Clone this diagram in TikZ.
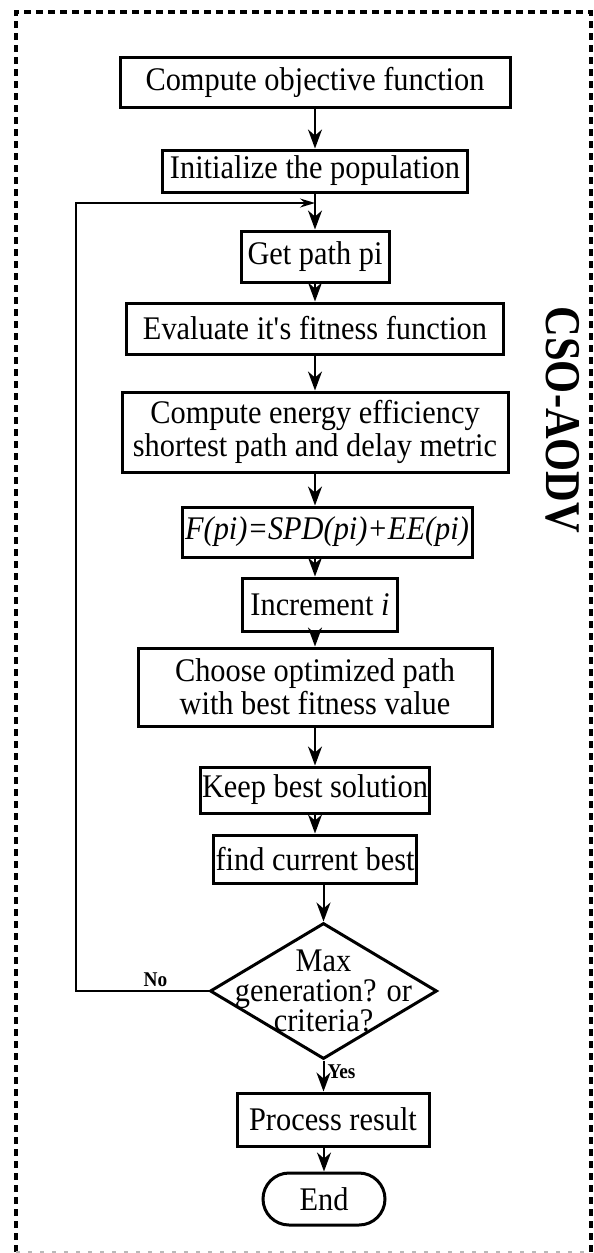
\documentclass[tikz,border=0pt]{standalone}
\usepackage{fontspec}
\setmainfont{Liberation Serif}[FakeStretch=0.92]
\newfontfamily\titlefont{Liberation Serif}[FakeStretch=0.85]
\usetikzlibrary{arrows.meta,shapes.geometric}

\begin{document}
\begin{tikzpicture}[
			x=0.5pt,y=-0.5pt,
			>={Stealth[length=9.5pt,width=7pt,inset=3pt]},
			box/.style={
				draw,
				line width=1.5pt,
				align=center,
				inner sep=1pt,
				font=\fontsize{16.5}{16.5}\selectfont
			},
			decision/.style={
				draw,
				diamond,
				line width=1.5pt,
				inner sep=0pt
			},
			terminal/.style={
				draw,
				line width=1.5pt,
				rounded corners=13pt,
				inner sep=1pt,
				font=\fontsize{16.5}{16.5}\selectfont
			},
			flow/.style={->,line width=1pt},
			loopflow/.style={-{Stealth[length=7.5pt,width=4.5pt,inset=2.5pt]},line width=0.9pt},
			lbl/.style={font=\fontsize{10.5}{11}\bfseries\selectfont,inner sep=1.5pt},
			frame/.style={line width=1.6pt,dash pattern=on 3.5pt off 2.5pt}
			]
			
			\useasboundingbox (0,0) rectangle (594,1253);
			\draw[frame] (16,1252) -- (16,12) -- (591,12) -- (591,1252);
			\draw[gray!55,line width=0.6pt,dash pattern=on 2pt off 4pt] (16,1252) -- (591,1252);
			
			\node[rotate=-90,font=\fontsize{25}{25}\titlefont\bfseries] (title) at (563,420) {CSO-AODV};
			
			\node[box,minimum width=195pt,minimum height=25pt] (objective) at (315,82)
			{Compute objective function};
			\node[box,minimum width=152.5pt,minimum height=21pt] (init) at (315,171)
			{Initialize the population};
			\node[box,minimum width=74pt,minimum height=25.5pt] (getpath) at (315,256.5)
			{Get path pi};
			\node[box,minimum width=188.5pt,minimum height=25.5pt] (evaluate) at (315,328.5)
			{Evaluate it\textquotesingle s fitness function};
			\node[box,minimum width=193pt,minimum height=40pt] (metric) at (315,432)
			{Compute energy efficiency\\shortest path and delay metric};
			\node[box,minimum width=145pt,minimum height=25pt] (fitness) at (327,532)
			{\textit{F(pi)=SPD(pi)+EE(pi)}};
			\node[box,minimum width=77.5pt,minimum height=26.5pt] (increment) at (320,604.5)
			{Increment \textit{i}};
			\node[box,minimum width=177pt,minimum height=39pt] (choose) at (315,687)
			{Choose optimized path\\with best fitness value};
			\node[box,minimum width=79.5pt,minimum height=23pt] (keep) at (315,790)
			{Keep best solution};
			\node[box,minimum width=77.5pt,minimum height=24pt] (current) at (315,859)
			{find current best};
			
			\node[decision,minimum width=113.5pt,minimum height=68pt,
			label={[align=center,font=\fontsize{16.5}{15}\selectfont]center:Max\\generation? or\\criteria?}] (maxgen) at (323.5,991) {};
			
			\node[box,minimum width=96pt,minimum height=26.5pt] (process) at (333,1119.5)
			{Process result};
			\node[terminal,minimum width=61pt,minimum height=26pt] (stop) at (324,1199)
			{End};
			
			\coordinate (merge) at (315,203);
			\coordinate (corner) at (76,203);
			
			\draw[flow] (objective) -- (init);
			\draw[flow] (init) -- (getpath);
			\draw[flow] (getpath) -- (evaluate);
			\draw[flow] (evaluate) -- (metric);
			\draw[flow] (metric.south) -- (metric.south |- fitness.north);
			\draw[flow] (metric.south |- fitness.south) -- (metric.south |- increment.north);
			\draw[flow] (metric.south |- increment.south) -- (choose);
			\draw[flow] (choose) -- (keep);
			\draw[flow] (keep) -- (current);
			\draw[flow] (maxgen.north |- current.south) -- (maxgen.north);
			
			\draw[loopflow] (maxgen.west) -- node[lbl,above,pos=0.4] {No} (maxgen.west -| corner) |- (merge);
			\draw[flow] (maxgen.south) -- node[lbl,right,pos=0.35] {Yes} (maxgen.south |- process.north);
			\draw[flow] (stop.north |- process.south) -- (stop);
			
		\end{tikzpicture}
\end{document}
